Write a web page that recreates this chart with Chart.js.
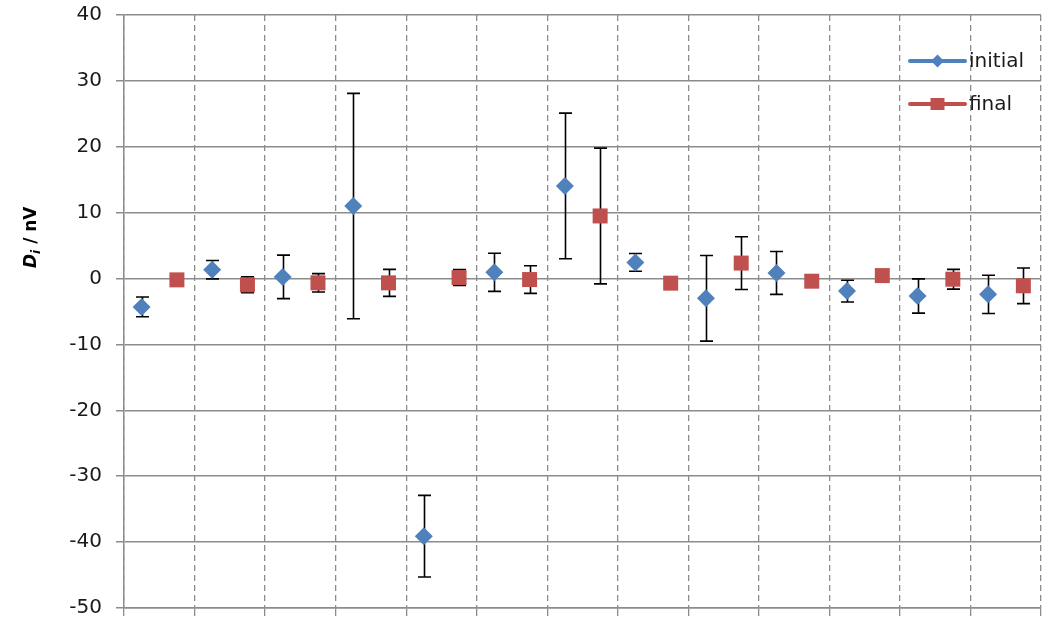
<!DOCTYPE html>
<html>
<head>
<meta charset="utf-8">
<title>D_i initial vs final</title>
<script src="https://cdn.jsdelivr.net/npm/chart.js@4.4.0/dist/chart.umd.min.js"></script>
<style>
  html, body { margin: 0; padding: 0; background: #ffffff; }
  #wrap { width: 1046px; height: 619px; }
</style>
</head>
<body>
<div id="wrap"><canvas id="chart" width="1046" height="619"></canvas></div>
<script>
// Measured D_i values (nV) per group, with their uncertainties
const seriesNames = ['initial', 'final'];
const initialValues = [-4.3, 1.35, 0.25, 11.0, -39.1, 0.95, 14.05, 2.45, -3.0, 0.85, -1.9, -2.65, -2.4];
const initialErrors = [1.5, 1.4, 3.3, 17.1, 6.2, 2.9, 11.05, 1.35, 6.5, 3.25, 1.65, 2.6, 2.9];
const finalValues = [-0.2, -0.95, -0.65, -0.65, 0.15, -0.15, 9.5, -0.7, 2.35, -0.4, 0.45, -0.1, -1.1];
const finalErrors = [0, 1.2, 1.4, 2.05, 1.2, 2.1, 10.3, 0, 4.0, 0, 0, 1.5, 2.7];
const yTickValues = [-50, -40, -30, -20, -10, 0, 10, 20, 30, 40];

const BLUE = '#4F81BD';
const RED = '#C0504D';
const GRID = '#8c8c8c';
const FONT = "'DejaVu Sans', Verdana, sans-serif";

// each group occupies one unit on the x axis; the two series sit at its quarter points
const groupCount = initialValues.length;
const toPoints = (vals, shift) => vals.map((v, i) => ({ x: i + shift, y: v }));

// vertical error bars with caps, drawn beneath the markers
const errorBars = {
  id: 'errorBars',
  beforeDatasetsDraw(chart) {
    const { ctx } = chart;
    const yScale = chart.scales.y;
    ctx.save();
    ctx.strokeStyle = '#000000';
    ctx.lineWidth = 1.6;
    chart.data.datasets.forEach((ds, di) => {
      const meta = chart.getDatasetMeta(di);
      meta.data.forEach((el, i) => {
        const err = ds.errors[i];
        if (!err) return;
        const v = ds.data[i].y;
        const yTop = yScale.getPixelForValue(v + err);
        const yBot = yScale.getPixelForValue(v - err);
        const x = Math.round(el.x) + 0.5;
        const cap = 6.5;
        ctx.beginPath();
        ctx.moveTo(x, yTop);
        ctx.lineTo(x, yBot);
        ctx.moveTo(x - cap, yTop);
        ctx.lineTo(x + cap, yTop);
        ctx.moveTo(x - cap, yBot);
        ctx.lineTo(x + cap, yBot);
        ctx.stroke();
      });
    });
    ctx.restore();
  }
};

// legend in the upper right of the plot and the rotated y-axis title
const legendAndTitle = {
  id: 'legendAndTitle',
  afterDraw(chart) {
    const { ctx, chartArea } = chart;
    ctx.save();

    const x0 = chartArea.right - 131;
    const x1 = chartArea.right - 76;
    const xm = (x0 + x1) / 2;
    const rows = [chartArea.top + 46, chartArea.top + 89];
    const colors = [BLUE, RED];
    rows.forEach((y, k) => {
      ctx.strokeStyle = colors[k];
      ctx.lineWidth = 4;
      ctx.lineCap = 'round';
      ctx.beginPath();
      ctx.moveTo(x0, y);
      ctx.lineTo(x1, y);
      ctx.stroke();
      ctx.fillStyle = colors[k];
      ctx.beginPath();
      if (k === 0) {
        ctx.moveTo(xm - 6.5, y);
        ctx.lineTo(xm, y - 6.5);
        ctx.lineTo(xm + 6.5, y);
        ctx.lineTo(xm, y + 6.5);
        ctx.closePath();
      } else {
        ctx.rect(xm - 7, y - 6, 14, 12);
      }
      ctx.fill();
      ctx.fillStyle = '#1a1a1a';
      ctx.font = '20px ' + FONT;
      ctx.textAlign = 'left';
      ctx.textBaseline = 'middle';
      ctx.fillText(seriesNames[k], x1 + 4, y + 1);
    });

    // y-axis title: D with subscript i, over nV
    ctx.translate(36, 268);
    ctx.rotate(-Math.PI / 2);
    ctx.fillStyle = '#000000';
    ctx.textAlign = 'left';
    ctx.textBaseline = 'alphabetic';
    let cx = 0;
    ctx.font = 'italic bold 17px ' + FONT;
    ctx.fillText('D', cx, 0);
    cx += ctx.measureText('D').width;
    ctx.font = 'italic bold 12px ' + FONT;
    ctx.fillText('i', cx, 4);
    cx += ctx.measureText('i').width;
    ctx.font = 'bold 17px ' + FONT;
    ctx.fillText(' / nV', cx, 0);
    ctx.restore();
  }
};

new Chart(document.getElementById('chart'), {
  type: 'scatter',
  data: {
    datasets: [
      {
        label: seriesNames[0],
        data: toPoints(initialValues, 0.25),
        errors: initialErrors,
        pointStyle: 'rectRot',
        pointRadius: 9,
        backgroundColor: BLUE,
        borderColor: BLUE,
        borderWidth: 0,
        showLine: false
      },
      {
        label: seriesNames[1],
        data: toPoints(finalValues, 0.75),
        errors: finalErrors,
        pointStyle: 'rect',
        pointRadius: 10.6,
        backgroundColor: RED,
        borderColor: RED,
        borderWidth: 0,
        showLine: false
      }
    ]
  },
  options: {
    responsive: false,
    animation: false,
    events: [],
    layout: { autoPadding: false, padding: { left: 0, right: 5, top: 15, bottom: 0 } },
    plugins: {
      legend: { display: false },
      tooltip: { enabled: false }
    },
    scales: {
      x: {
        type: 'linear',
        min: 0,
        max: groupCount,
        ticks: { stepSize: 1, display: false },
        grid: { color: GRID, lineWidth: 1.3, tickLength: 8, tickColor: GRID },
        border: { display: true, color: GRID, width: 1.5, dash: [6, 4] },
        afterFit(scale) {
          scale.height = 11;
          scale.paddingLeft = scale.paddingRight = 0;
        }
      },
      y: {
        min: Math.min(...yTickValues),
        max: Math.max(...yTickValues),
        ticks: {
          stepSize: yTickValues[1] - yTickValues[0],
          padding: 14,
          color: '#1a1a1a',
          font: { family: FONT, size: 20 }
        },
        grid: { color: GRID, lineWidth: 1.5, tickLength: 8, tickColor: GRID },
        border: { display: true, color: GRID, width: 1.5 },
        afterFit(scale) {
          scale.width = 124;
          // labels may overhang the plot frame at the top and bottom
          scale.paddingTop = scale.paddingBottom = 0;
        }
      }
    }
  },
  plugins: [errorBars, legendAndTitle]
});
</script>
</body>
</html>
